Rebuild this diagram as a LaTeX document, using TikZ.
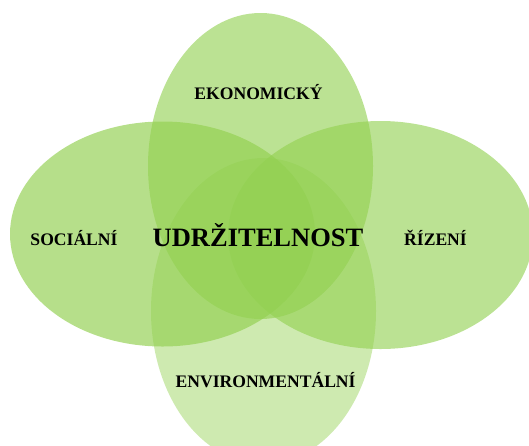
\documentclass[tikz,border=0pt]{standalone}
\usepackage{fontspec}
\setmainfont{Liberation Serif}
\definecolor{leafgreen}{HTML}{92D050}
\tikzset{
  petal/.style={fill=leafgreen},
  lbl/.style={font=\fontsize{17.6}{20}\selectfont\bfseries, text=black, inner sep=0pt},
  core/.style={font=\fontsize{26.5}{30}\selectfont\bfseries, text=black, inner sep=0pt}
}
\begin{document}
\begin{tikzpicture}[x=1pt,y=-1pt]
\useasboundingbox (0,0) rectangle (529,445);
\fill[petal, fill opacity=0.62] (260.5,166) ellipse [x radius=112.5, y radius=153];
\fill[petal, fill opacity=0.67] (162.5,234) ellipse [x radius=152.5, y radius=112.5];
\fill[petal, fill opacity=0.62] (380.5,235) ellipse [x radius=152.5, y radius=114];
\fill[petal, fill opacity=0.45] (263.5,311) ellipse [x radius=112.5, y radius=153];
\node[lbl] (eko) at (258.5,92) {EKONOMICKÝ};
\node[lbl] (soc) at (74,238) {SOCIÁLNÍ};
\node[lbl] (riz) at (435.5,238) {ŘÍZENÍ};
\node[lbl] (env) at (265.6,380) {ENVIRONMENTÁLNÍ};
\node[core] (udr) at (258,235) {UDRŽITELNOST};
\end{tikzpicture}
\end{document}
